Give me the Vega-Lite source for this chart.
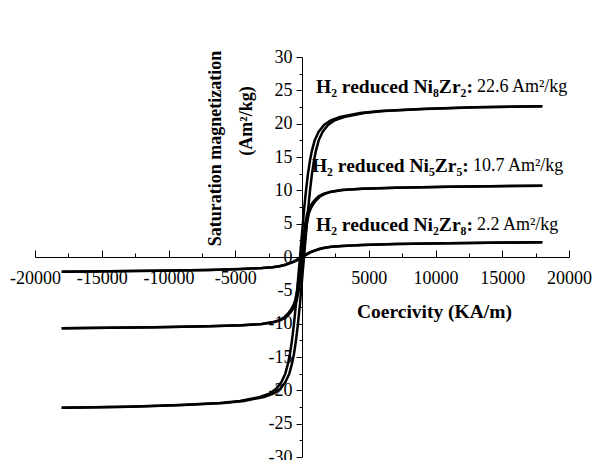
{
  "$schema": "https://vega.github.io/schema/vega-lite/v6.json",
  "width": 534,
  "height": 400,
  "autosize": {"type": "none"},
  "padding": {"left": 35, "top": 57, "right": 25, "bottom": 3},
  "background": "white",
  "config": {"view": {"stroke": null}, "font": "Liberation Serif"},
  "datasets": {
    "curves": [
      {"c":"A1","x":-18000,"y":-22.6},{"c":"A1","x":-12850,"y":-22.45},{"c":"A1","x":-8850,"y":-22.2},{"c":"A1","x":-5850,"y":-21.9},{"c":"A1","x":-4350,"y":-21.6},{"c":"A1","x":-2850,"y":-21},{"c":"A1","x":-2150,"y":-20.5},{"c":"A1","x":-1650,"y":-19.8},{"c":"A1","x":-1250,"y":-18.8},{"c":"A1","x":-950,"y":-17.5},{"c":"A1","x":-750,"y":-16},{"c":"A1","x":-600,"y":-14.5},{"c":"A1","x":-450,"y":-12.5},{"c":"A1","x":-300,"y":-10},{"c":"A1","x":-150,"y":-7},{"c":"A1","x":0,"y":-3.5},{"c":"A1","x":150,"y":0},{"c":"A1","x":300,"y":3.5},{"c":"A1","x":450,"y":7},{"c":"A1","x":600,"y":10},{"c":"A1","x":750,"y":12.5},{"c":"A1","x":900,"y":14.5},{"c":"A1","x":1050,"y":16},{"c":"A1","x":1250,"y":17.5},{"c":"A1","x":1550,"y":18.8},{"c":"A1","x":1950,"y":19.8},{"c":"A1","x":2450,"y":20.5},{"c":"A1","x":3150,"y":21},{"c":"A1","x":4650,"y":21.6},{"c":"A1","x":6150,"y":21.9},{"c":"A1","x":9150,"y":22.2},{"c":"A1","x":13150,"y":22.45},{"c":"A1","x":18000,"y":22.6},
      {"c":"A2","x":18000,"y":22.6},{"c":"A2","x":12850,"y":22.45},{"c":"A2","x":8850,"y":22.2},{"c":"A2","x":5850,"y":21.9},{"c":"A2","x":4350,"y":21.6},{"c":"A2","x":2850,"y":21},{"c":"A2","x":2150,"y":20.5},{"c":"A2","x":1650,"y":19.8},{"c":"A2","x":1250,"y":18.8},{"c":"A2","x":950,"y":17.5},{"c":"A2","x":750,"y":16},{"c":"A2","x":600,"y":14.5},{"c":"A2","x":450,"y":12.5},{"c":"A2","x":300,"y":10},{"c":"A2","x":150,"y":7},{"c":"A2","x":0,"y":3.5},{"c":"A2","x":-150,"y":0},{"c":"A2","x":-300,"y":-3.5},{"c":"A2","x":-450,"y":-7},{"c":"A2","x":-600,"y":-10},{"c":"A2","x":-750,"y":-12.5},{"c":"A2","x":-900,"y":-14.5},{"c":"A2","x":-1050,"y":-16},{"c":"A2","x":-1250,"y":-17.5},{"c":"A2","x":-1550,"y":-18.8},{"c":"A2","x":-1950,"y":-19.8},{"c":"A2","x":-2450,"y":-20.5},{"c":"A2","x":-3150,"y":-21},{"c":"A2","x":-4650,"y":-21.6},{"c":"A2","x":-6150,"y":-21.9},{"c":"A2","x":-9150,"y":-22.2},{"c":"A2","x":-13150,"y":-22.45},{"c":"A2","x":-18000,"y":-22.6},
      {"c":"B1","x":-18000,"y":-10.7},{"c":"B1","x":-10940,"y":-10.55},{"c":"B1","x":-6940,"y":-10.4},{"c":"B1","x":-4440,"y":-10.25},{"c":"B1","x":-2940,"y":-10.05},{"c":"B1","x":-2140,"y":-9.8},{"c":"B1","x":-1640,"y":-9.5},{"c":"B1","x":-1240,"y":-9.1},{"c":"B1","x":-940,"y":-8.5},{"c":"B1","x":-740,"y":-8},{"c":"B1","x":-540,"y":-7.3},{"c":"B1","x":-390,"y":-6.5},{"c":"B1","x":-240,"y":-5},{"c":"B1","x":-90,"y":-2.5},{"c":"B1","x":60,"y":0},{"c":"B1","x":210,"y":2.5},{"c":"B1","x":360,"y":5},{"c":"B1","x":510,"y":6.5},{"c":"B1","x":660,"y":7.3},{"c":"B1","x":860,"y":8},{"c":"B1","x":1060,"y":8.5},{"c":"B1","x":1360,"y":9.1},{"c":"B1","x":1760,"y":9.5},{"c":"B1","x":2260,"y":9.8},{"c":"B1","x":3060,"y":10.05},{"c":"B1","x":4560,"y":10.25},{"c":"B1","x":7060,"y":10.4},{"c":"B1","x":11060,"y":10.55},{"c":"B1","x":18000,"y":10.7},
      {"c":"B2","x":18000,"y":10.7},{"c":"B2","x":10940,"y":10.55},{"c":"B2","x":6940,"y":10.4},{"c":"B2","x":4440,"y":10.25},{"c":"B2","x":2940,"y":10.05},{"c":"B2","x":2140,"y":9.8},{"c":"B2","x":1640,"y":9.5},{"c":"B2","x":1240,"y":9.1},{"c":"B2","x":940,"y":8.5},{"c":"B2","x":740,"y":8},{"c":"B2","x":540,"y":7.3},{"c":"B2","x":390,"y":6.5},{"c":"B2","x":240,"y":5},{"c":"B2","x":90,"y":2.5},{"c":"B2","x":-60,"y":0},{"c":"B2","x":-210,"y":-2.5},{"c":"B2","x":-360,"y":-5},{"c":"B2","x":-510,"y":-6.5},{"c":"B2","x":-660,"y":-7.3},{"c":"B2","x":-860,"y":-8},{"c":"B2","x":-1060,"y":-8.5},{"c":"B2","x":-1360,"y":-9.1},{"c":"B2","x":-1760,"y":-9.5},{"c":"B2","x":-2260,"y":-9.8},{"c":"B2","x":-3060,"y":-10.05},{"c":"B2","x":-4560,"y":-10.25},{"c":"B2","x":-7060,"y":-10.4},{"c":"B2","x":-11060,"y":-10.55},{"c":"B2","x":-18000,"y":-10.7},
      {"c":"C1","x":-18000,"y":-2.2},{"c":"C1","x":-10960,"y":-2.08},{"c":"C1","x":-6960,"y":-1.95},{"c":"C1","x":-4460,"y":-1.8},{"c":"C1","x":-2960,"y":-1.65},{"c":"C1","x":-2160,"y":-1.52},{"c":"C1","x":-1660,"y":-1.38},{"c":"C1","x":-1260,"y":-1.2},{"c":"C1","x":-960,"y":-1.0},{"c":"C1","x":-560,"y":-0.7},{"c":"C1","x":-260,"y":-0.35},{"c":"C1","x":40,"y":0},{"c":"C1","x":340,"y":0.35},{"c":"C1","x":640,"y":0.7},{"c":"C1","x":1040,"y":1.0},{"c":"C1","x":1340,"y":1.2},{"c":"C1","x":1740,"y":1.38},{"c":"C1","x":2240,"y":1.52},{"c":"C1","x":3040,"y":1.65},{"c":"C1","x":4540,"y":1.8},{"c":"C1","x":7040,"y":1.95},{"c":"C1","x":11040,"y":2.08},{"c":"C1","x":18000,"y":2.2},
      {"c":"C2","x":18000,"y":2.2},{"c":"C2","x":10960,"y":2.08},{"c":"C2","x":6960,"y":1.95},{"c":"C2","x":4460,"y":1.8},{"c":"C2","x":2960,"y":1.65},{"c":"C2","x":2160,"y":1.52},{"c":"C2","x":1660,"y":1.38},{"c":"C2","x":1260,"y":1.2},{"c":"C2","x":960,"y":1.0},{"c":"C2","x":560,"y":0.7},{"c":"C2","x":260,"y":0.35},{"c":"C2","x":-40,"y":0},{"c":"C2","x":-340,"y":-0.35},{"c":"C2","x":-640,"y":-0.7},{"c":"C2","x":-1040,"y":-1.0},{"c":"C2","x":-1340,"y":-1.2},{"c":"C2","x":-1740,"y":-1.38},{"c":"C2","x":-2240,"y":-1.52},{"c":"C2","x":-3040,"y":-1.65},{"c":"C2","x":-4540,"y":-1.8},{"c":"C2","x":-7040,"y":-1.95},{"c":"C2","x":-11040,"y":-2.08},{"c":"C2","x":-18000,"y":-2.2}
    ],
    "labels": [
      {"bold":"H₂ reduced Ni₈Zr₂:","val":"22.6 Am²/kg","x":12800,"y":25.5},
      {"bold":"H₂ reduced Ni₅Zr₅:","val":"10.7 Am²/kg","x":12500,"y":13.65},
      {"bold":"H₂ reduced Ni₂Zr₈:","val":"2.2 Am²/kg","x":12800,"y":4.8}
    ],
    "ytitle": [
      {"t":"(Am²/kg)","x":-4120,"y":20.4}
    ]
  },
  "encoding": {
    "x": {
      "field": "x", "type": "quantitative",
      "scale": {"domain": [-20000, 20000], "nice": false, "zero": false},
      "axis": {
        "title": "Coercivity (KA/m)",
        "orient": "bottom",
        "offset": -200,
        "values": [-20000,-17500,-15000,-12500,-10000,-7500,-5000,-2500,0,2500,5000,7500,10000,12500,15000,17500,20000],
        "tickSize": {"condition": {"test": "datum.value % 5000 === 0", "value": -7}, "value": -4},
        "labelExpr": "datum.value % 5000 === 0 && datum.value !== 0 ? '' + datum.value : ''",
        "labelFont": "Liberation Serif",
        "labelFontSize": 18,
        "labelColor": "black",
        "labelPadding": 19,
        "labelFlush": false,
        "labelOverlap": false,
        "labelBound": false,
        "domainColor": "black",
        "domainWidth": 1,
        "tickColor": "black",
        "tickWidth": 1,
        "grid": false,
        "titleFont": "Liberation Serif",
        "titleFontSize": 19.5,
        "titleFontWeight": "bold",
        "titleColor": "black",
        "titleX": 399,
        "titleY": 54,
        "titleAlign": "center",
        "titleBaseline": "middle"
      }
    },
    "y": {
      "field": "y", "type": "quantitative",
      "scale": {"domain": [-30, 30], "nice": false, "zero": false},
      "axis": {
        "title": "Saturation magnetization",
        "orient": "left",
        "offset": -267,
        "values": [-30,-27.5,-25,-22.5,-20,-17.5,-15,-12.5,-10,-7.5,-5,-2.5,0,2.5,5,7.5,10,12.5,15,17.5,20,22.5,25,27.5,30],
        "tickSize": {"condition": {"test": "datum.value % 5 === 0", "value": 6}, "value": 3},
        "labelExpr": "datum.value % 5 === 0 ? '' + datum.value : ''",
        "labelFont": "Liberation Serif",
        "labelFontSize": 18,
        "labelColor": "black",
        "labelPadding": 4,
        "labelFlush": false,
        "labelOverlap": false,
        "labelBound": false,
        "domainColor": "black",
        "domainWidth": 1,
        "tickColor": "black",
        "tickWidth": 1,
        "grid": false,
        "titleFont": "Liberation Serif",
        "titleFontSize": 18,
        "titleFontWeight": "bold",
        "titleColor": "black",
        "titleAngle": 270,
        "titleX": -87,
        "titleY": 91,
        "titleAlign": "center",
        "titleBaseline": "middle"
      }
    }
  },
  "layer": [
    {
      "data": {"name": "curves"},
      "mark": {"type": "line", "color": "black", "strokeWidth": 2.5, "clip": false},
      "encoding": {"detail": {"field": "c", "type": "nominal"}}
    },
    {
      "data": {"name": "labels"},
      "mark": {"type": "text", "align": "right", "baseline": "middle", "font": "Liberation Serif", "fontWeight": "bold", "fontSize": 19.5, "color": "black"},
      "encoding": {"text": {"field": "bold", "type": "nominal"}}
    },
    {
      "data": {"name": "labels"},
      "mark": {"type": "text", "align": "left", "baseline": "middle", "dx": 4, "font": "Liberation Serif", "fontSize": 18, "color": "black"},
      "encoding": {"text": {"field": "val", "type": "nominal"}}
    },
    {
      "data": {"name": "ytitle"},
      "mark": {"type": "text", "angle": 270, "align": "center", "baseline": "middle", "font": "Liberation Serif", "fontWeight": "bold", "fontSize": 18, "color": "black"},
      "encoding": {"text": {"field": "t", "type": "nominal"}}
    }
  ]
}
